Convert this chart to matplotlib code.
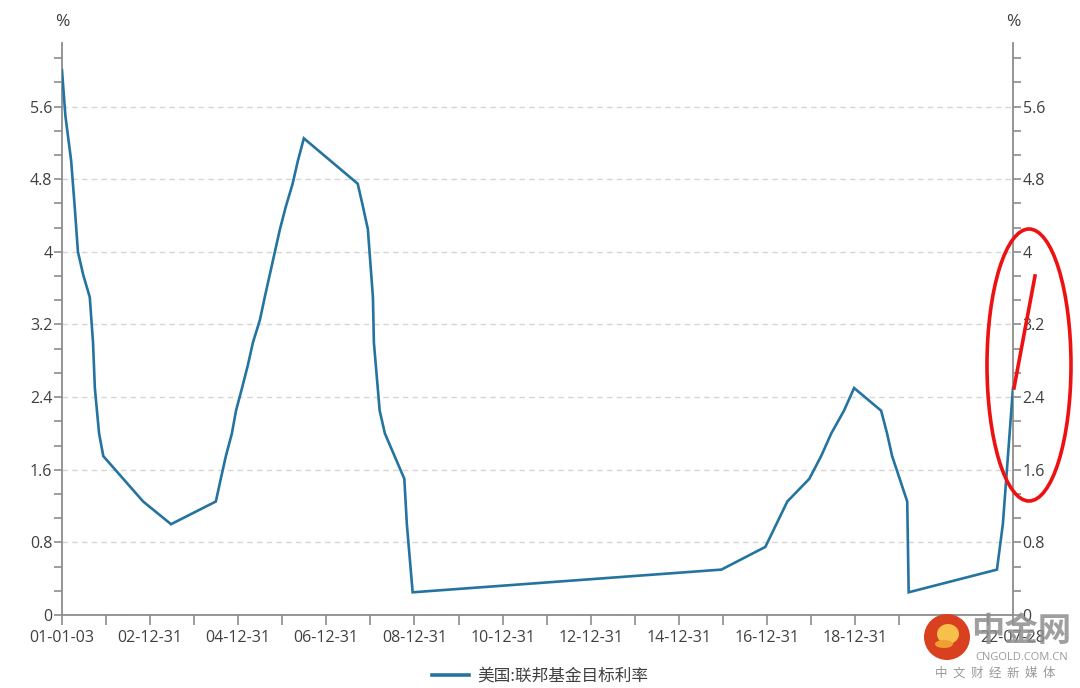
import matplotlib
matplotlib.use("Agg")
import matplotlib.pyplot as plt
import matplotlib.dates as mdates
from matplotlib.patches import Ellipse
from matplotlib.lines import Line2D
from matplotlib.ticker import FixedLocator, FuncFormatter
import pandas as pd

plt.rcParams["font.family"] = ["Open Sans", "Noto Sans CJK SC", "DejaVu Sans"]

# Fed funds target rate (upper bound), change dates only
dates = [
    "2001-01-03", "2001-01-31", "2001-03-20", "2001-04-18", "2001-05-15", "2001-06-27",
    "2001-08-21", "2001-09-17", "2001-10-02", "2001-11-06", "2001-12-11", "2002-11-06",
    "2003-06-25", "2004-06-30", "2004-08-10", "2004-09-21", "2004-11-10", "2004-12-14",
    "2005-02-02", "2005-03-22", "2005-05-03", "2005-06-30", "2005-08-09", "2005-09-20",
    "2005-11-01", "2005-12-13", "2006-01-31", "2006-03-28", "2006-05-10", "2006-06-29",
    "2007-09-18", "2007-10-31", "2007-12-11", "2008-01-22", "2008-01-30", "2008-03-18",
    "2008-04-30", "2008-10-08", "2008-10-29", "2008-12-16", "2015-12-17", "2016-12-15",
    "2017-03-16", "2017-06-15", "2017-12-14", "2018-03-22", "2018-06-14", "2018-09-27",
    "2018-12-20", "2019-08-01", "2019-09-19", "2019-10-31", "2020-03-04", "2020-03-16",
    "2022-03-17", "2022-05-05", "2022-06-16", "2022-07-28",
]
rates = [
    6.0, 5.5, 5.0, 4.5, 4.0, 3.75,
    3.5, 3.0, 2.5, 2.0, 1.75, 1.25,
    1.0, 1.25, 1.5, 1.75, 2.0, 2.25,
    2.5, 2.75, 3.0, 3.25, 3.5, 3.75,
    4.0, 4.25, 4.5, 4.75, 5.0, 5.25,
    4.75, 4.5, 4.25, 3.5, 3.0, 2.25,
    2.0, 1.5, 1.0, 0.25, 0.5, 0.75,
    1.0, 1.25, 1.5, 1.75, 2.0, 2.25,
    2.5, 2.25, 2.0, 1.75, 1.25, 0.25,
    0.5, 1.0, 1.75, 2.5,
]
series_name = "美国:联邦基金目标利率"

label_dates = ["2001-01-03", "2002-12-31", "2004-12-31", "2006-12-31", "2008-12-31",
               "2010-12-31", "2012-12-31", "2014-12-31", "2016-12-31", "2018-12-31",
               "2022-07-28"]
minor_dates = ["2001-12-31", "2003-12-31", "2005-12-31", "2007-12-31", "2009-12-31",
               "2011-12-31", "2013-12-31", "2015-12-31", "2017-12-31", "2019-12-31",
               "2020-12-31", "2021-12-31"]
y_major = [0, 0.8, 1.6, 2.4, 3.2, 4.0, 4.8, 5.6]

LINE = "#2474A0"
AX = "#8C8C8C"
TXT = "#404040"
GRID = "#D6D6D6"
W, H = 1080, 688

x = pd.to_datetime(dates)
fig = plt.figure(figsize=(10.8, 6.88), dpi=100)
ax = fig.add_axes([62 / W, 1 - 615 / H, (1013 - 62) / W, (615 - 43) / H])

ax.plot(x, rates, color=LINE, lw=1.9, solid_joinstyle="miter", zorder=3)

ax.set_xlim(x[0], x[-1])
ax.set_ylim(0, 6.3)

ax.spines["top"].set_visible(False)
for sp in ["left", "right", "bottom"]:
    ax.spines[sp].set_color(AX)
    ax.spines[sp].set_linewidth(1.3)

ax.yaxis.set_major_locator(FixedLocator(y_major))
ax.yaxis.set_minor_locator(FixedLocator([i * 0.8 / 3 for i in range(24)]))
ax.yaxis.set_major_formatter(FuncFormatter(lambda v, _: f"{v:g}"))
ax.yaxis.set_ticks_position("both")
ax.tick_params(axis="y", which="both", direction="out", length=6, width=1.2,
               color=AX, labelcolor=TXT, labelsize=11.5, pad=1,
               left=True, right=True, labelleft=True, labelright=True)

ld = pd.to_datetime(label_dates)
ax.set_xticks(mdates.date2num(ld))
ax.set_xticklabels([d.strftime("%y-%m-%d") for d in ld])
ax.set_xticks(mdates.date2num(pd.to_datetime(minor_dates)), minor=True)
ax.tick_params(axis="x", which="both", direction="out", length=7, width=1.2,
               color=AX, labelcolor=TXT, labelsize=11.5, pad=4)

ax.grid(axis="y", which="major", color=GRID, linestyle=(0, (4, 3)), linewidth=1.0)
ax.grid(axis="x", visible=False)
ax.set_axisbelow(True)

fig.text(62 / W, 1 - 22 / H, "%", ha="center", va="center", color=TXT, fontsize=12.5)
fig.text(1013 / W, 1 - 22 / H, "%", ha="center", va="center", color=TXT, fontsize=12.5)

lg = ax.legend([Line2D([0], [0], color=LINE, lw=2.6)], [series_name],
               loc="center", bbox_to_anchor=(0.5, 1 - 676 / H), bbox_transform=fig.transFigure,
               frameon=False, fontsize=12, handlelength=2.2, handletextpad=0.5)
for t in lg.get_texts():
    t.set_color(TXT)
    t.set_family(["Noto Sans CJK SC", "DejaVu Sans"])

# hand-drawn red annotation
fig.add_artist(Ellipse((1029 / W, 1 - 365 / H), 84 / W, 272 / H, transform=fig.transFigure,
                       fill=False, edgecolor="#EE1111", lw=2.6, zorder=10))
fig.add_artist(Line2D([1014 / W, 1035 / W], [1 - 388 / H, 1 - 276 / H],
                      transform=fig.transFigure, color="#EE1111", lw=2.6, zorder=10))

# watermark logo
fig.add_artist(Ellipse((947 / W, 1 - 637 / H), 46 / W, 46 / H, transform=fig.transFigure,
                       facecolor="#D8401F", edgecolor="none", zorder=11))
fig.add_artist(Ellipse((948 / W, 1 - 634 / H), 22 / W, 20 / H, transform=fig.transFigure,
                       facecolor="#F6C04A", edgecolor="none", zorder=12))
fig.add_artist(Ellipse((944 / W, 1 - 644 / H), 18 / W, 8 / H, transform=fig.transFigure,
                       facecolor="#F0A030", edgecolor="none", zorder=12))
fig.text(1021 / W, 1 - 632 / H, "中金网", ha="center", va="center", fontsize=24,
         fontweight="bold", color="#8E8E8E", alpha=0.85, family="Noto Sans CJK SC", zorder=12)
fig.text(1022 / W, 1 - 658 / H, "CNGOLD.COM.CN", ha="center", va="center", fontsize=8,
         color="#9A9A9A", zorder=12)
fig.text(995 / W, 1 - 673 / H, "中  文  财  经  新  媒  体", ha="center", va="center", fontsize=9,
         color="#9A9A9A", family="Noto Sans CJK SC", zorder=12)

fig.savefig("out.png", dpi=100, facecolor="white")
